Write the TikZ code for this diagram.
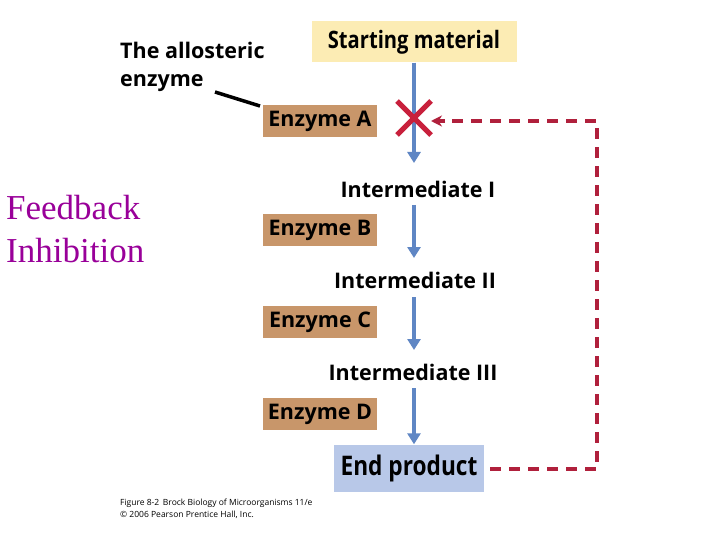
\documentclass[tikz,border=0pt]{standalone}
\usepackage{fontspec}
\setmainfont{Liberation Serif}
\newfontfamily\lab{Open Sans}
\newfontfamily\cond[FakeStretch=0.84]{Open Sans}
\usetikzlibrary{arrows.meta,calc}
\begin{document}
\begin{tikzpicture}[x=1pt,y=-1pt,
  enz/.style={fill=enzfill,minimum width=114pt,minimum height=32pt,inner sep=0pt,font=\lab\bfseries\fontsize{21.5}{24}\selectfont},
  inter/.style={font=\lab\bfseries\fontsize{21.5}{24}\selectfont,inner sep=0pt},
  flow/.style={draw=flowblue,line width=4pt,-{Triangle[length=11pt,width=13pt]}},
  fb/.style={draw=fbred,line width=3.2pt,dash pattern=on 11pt off 8pt}]
\definecolor{enzfill}{HTML}{C8966A}
\definecolor{startfill}{HTML}{FCECB4}
\definecolor{endfill}{HTML}{B8C8E8}
\definecolor{flowblue}{HTML}{5F86C4}
\definecolor{fbred}{HTML}{B0203C}
\definecolor{xred}{HTML}{C8203C}
\useasboundingbox[fill=white] (0,0) rectangle (720,540);
\node[fill=startfill,minimum width=205pt,minimum height=41pt,inner sep=0pt,font=\cond\bfseries\fontsize{24}{26}\selectfont] (start) at (414,42) {Starting material};
\node[align=left,anchor=north west,inner sep=0pt,font=\lab\bfseries\fontsize{21.5}{28}\selectfont] (allo) at (120,42) {The allosteric\\enzyme};
\node[enz] (ea) at (320,121) {Enzyme A};
\node[inter] (i1) at (418,189) {Intermediate I};
\node[enz] (eb) at (320,230) {Enzyme B};
\node[inter] (i2) at (415,280) {Intermediate II};
\node[enz] (ec) at (320,322) {Enzyme C};
\node[inter] (i3) at (413,372) {Intermediate III};
\node[enz] (ed) at (320,414) {Enzyme D};
\node[fill=endfill,minimum width=150pt,minimum height=47pt,inner sep=0pt,font=\cond\bfseries\fontsize{27}{28}\selectfont] (end) at (409,468) {End product};
\node[align=left,anchor=west,text=violet!80!magenta,font=\fontsize{35}{43}\selectfont,inner sep=0pt] (fbt) at (6,229) {Feedback\\Inhibition};
\node[align=left,anchor=north west,inner sep=0pt,font=\lab\fontsize{8.5}{12}\selectfont] (cap) at (120,499) {Figure 8-2\, Brock Biology of Microorganisms 11/e\\\textcopyright{} 2006 Pearson Prentice Hall, Inc.};
\coordinate (lA) at (215,92);
\coordinate (lB) at (260,106);
\draw[line width=3.5pt] (lA) -- (lB);
\draw[flow] (start.south -| 414,0) -- (414,163);
\coordinate (xc) at (414,118);
\draw[xred,line width=5pt] ($(xc)+(-17,-17)$) -- ($(xc)+(17,17)$) ($(xc)+(17,-17)$) -- ($(xc)+(-17,17)$);
\draw[flow] (414,205) -- (414,258);
\draw[flow] (414,297) -- (414,350);
\draw[flow] (414,388) -- (end.north -| 414,0);
\coordinate (c1) at (597,469);
\coordinate (c2) at (597,121);
\draw[fb] (end.east |- 0,469) ++(6,0) -- (c1) -- (c2) -- (436,121);
\draw[fbred,line width=3.2pt,-{Stealth[length=11pt,width=11pt]}] (445,121) -- (431,121);
\end{tikzpicture}
\end{document}
